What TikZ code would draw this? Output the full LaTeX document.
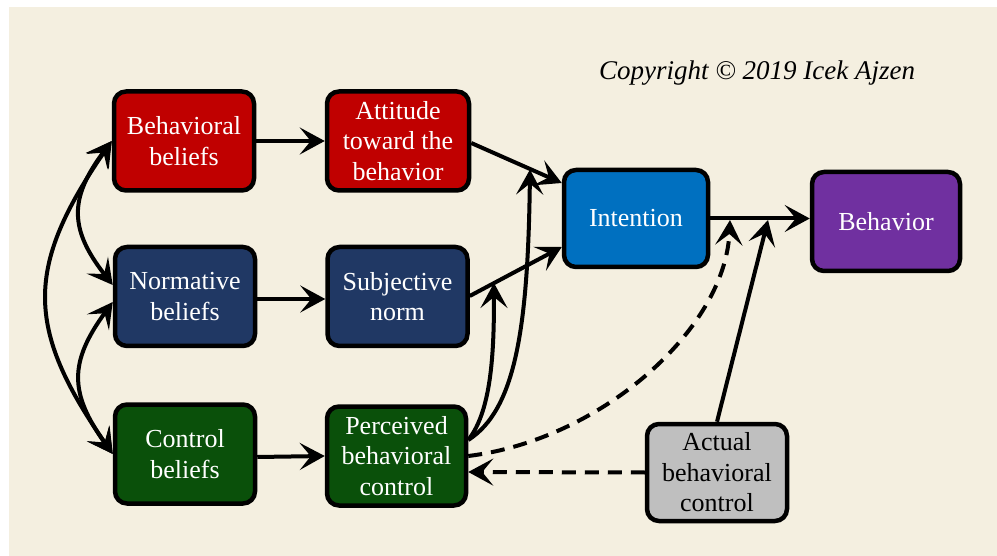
\documentclass[tikz,border=0pt]{standalone}
\usepackage{fontspec}
\setmainfont{Liberation Serif}
\usetikzlibrary{arrows.meta}
\definecolor{bg}{HTML}{F4EFE0}
\definecolor{cred}{HTML}{C00000}
\definecolor{cnavy}{HTML}{203864}
\definecolor{cgreen}{HTML}{0A500A}
\definecolor{cblue}{HTML}{0070C0}
\definecolor{cpurple}{HTML}{7030A0}
\definecolor{cgray}{HTML}{BFBFBF}
\begin{document}
\begin{tikzpicture}[x=1pt,y=-1pt,
  box/.style={draw=black, line width=4.5pt, rounded corners=12pt,
    minimum width=140pt, minimum height=99pt, align=center, text=white,
    inner sep=0pt, font=\fontsize{26}{30.5}\selectfont},
  tipA/.tip={Stealth[length=25pt,width=27pt,inset=11pt]},
  arr/.style={line width=4pt, -tipA},
  barr/.style={line width=4pt, tipA-tipA},
  darr/.style={arr, dash pattern=on 14pt off 9pt},
]
\useasboundingbox (0,0) rectangle (997,556);
\fill[white] (0,0) rectangle (997,556);
\fill[bg] (9,7) rectangle (997,556);

\node[anchor=base, font=\fontsize{27}{32}\selectfont\itshape] (copy) at (757,80) {Copyright \textcopyright{} 2019 Icek Ajzen};

\node[box, fill=cred] (bb) at (184,141) {Behavioral\\beliefs};
\node[box, fill=cred, minimum width=142pt] (att) at (398,141) {Attitude\\toward the\\behavior};
\node[box, fill=cnavy] (nb) at (185,296.5) {Normative\\beliefs};
\node[box, fill=cnavy] (sn) at (397.5,296.5) {Subjective\\norm};
\node[box, fill=cgreen] (cb) at (185,454) {Control\\beliefs};
\node[box, fill=cgreen, minimum width=139pt] (pbc) at (396.5,456) {Perceived\\behavioral\\control};
\node[box, fill=cblue, minimum width=144pt, minimum height=97pt] (int) at (636,218.5) {Intention};
\node[box, fill=cpurple, minimum width=148pt] (beh) at (886,221.5) {Behavior};
\node[box, fill=cgray, text=black, minimum height=97pt] (act) at (717,472.5) {Actual\\behavioral\\control};

\coordinate (m1) at (530,169.5);
\coordinate (m2) at (494,283);
\coordinate (m3) at (730,220);
\coordinate (m4) at (768,220);

% left correlations
\draw[barr] (bb.west) .. controls (25,267) and (25,328) .. (cb.west);
\draw[barr] (bb.west) .. controls (69,198) and (69,229) .. ([yshift=11.5pt]nb.west);
\draw[barr] ([yshift=-5.5pt]nb.west) .. controls (69,362) and (69,393) .. (cb.west);

% main paths
\draw[arr] (bb.east) -- (att.west);
\draw[arr] ([yshift=-2.5pt]nb.east) -- ([yshift=-2.5pt]sn.west);
\draw[arr] ([yshift=-3pt]cb.east) -- (pbc.west);
\draw[arr] ([yshift=-2pt]att.east) -- ([yshift=35.5pt]int.west);
\draw[arr] ([yshift=0.5pt]sn.east) -- ([yshift=-28.5pt]int.west);
\draw[arr] (int.east) -- (beh.west |- int.east);

% moderating paths from PBC
\draw[arr] ([yshift=16pt]pbc.east) .. controls (492,410) and (494,350) .. (m2);
\draw[arr] ([yshift=16pt]pbc.east) .. controls (515,410) and (528,330) .. (m1);
\draw[darr] (pbc.east) .. controls (600,440) and (725,330) .. (m3);

% actual behavioral control
\draw[darr] (act.west) -- ([yshift=-16pt]pbc.east);
\draw[arr] (act.north) -- (m4);
\end{tikzpicture}
\end{document}
